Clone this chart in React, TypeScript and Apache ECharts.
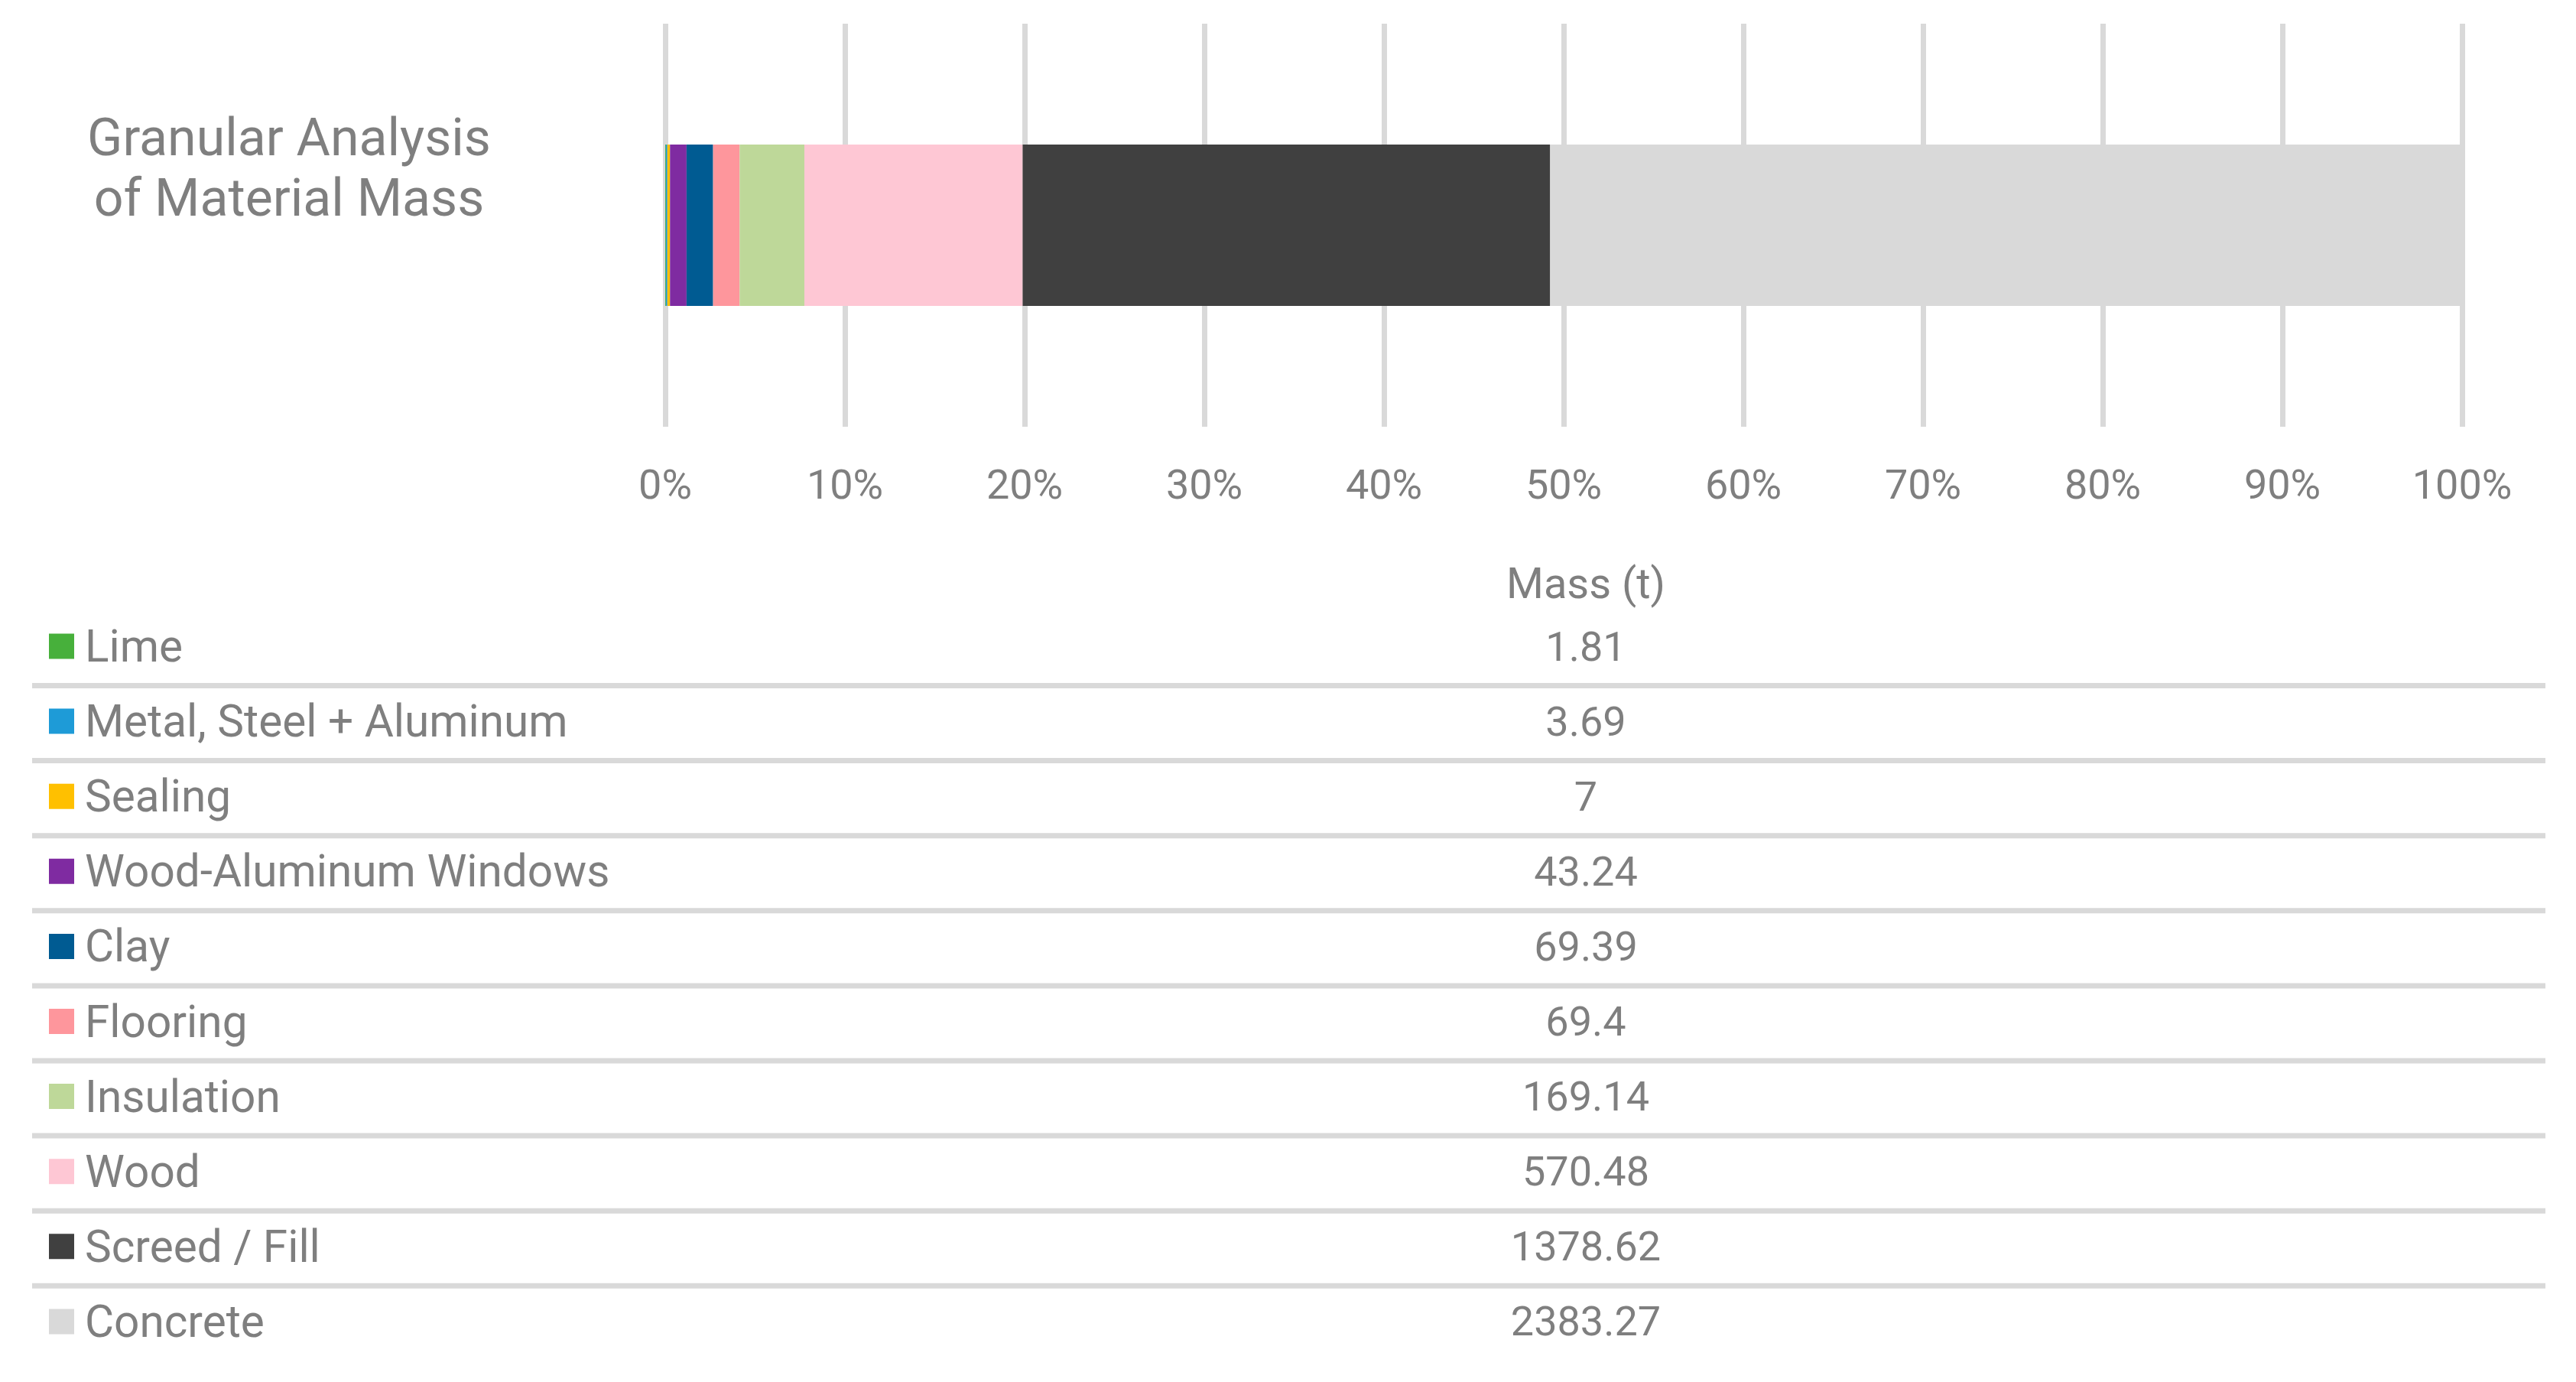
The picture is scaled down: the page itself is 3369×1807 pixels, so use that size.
import React, { useEffect, useRef } from "react";
import * as echarts from "echarts";

const materials = [
  "Lime",
  "Metal, Steel + Aluminum",
  "Sealing",
  "Wood-Aluminum Windows",
  "Clay",
  "Flooring",
  "Insulation",
  "Wood",
  "Screed / Fill",
  "Concrete",
];
const massTonnes = [1.81, 3.69, 7, 43.24, 69.39, 69.4, 169.14, 570.48, 1378.62, 2383.27];
const massLabels = ["1.81", "3.69", "7", "43.24", "69.39", "69.4", "169.14", "570.48", "1378.62", "2383.27"];
const colors = [
  "#47b03b",
  "#1e9bd7",
  "#ffc000",
  "#7f2ba1",
  "#005b92",
  "#fe969c",
  "#bed899",
  "#fec7d4",
  "#404040",
  "#d9d9d9",
];
const percentTicks = [0, 10, 20, 30, 40, 50, 60, 70, 80, 90, 100];
const titleLines = ["Granular Analysis", "of Material Mass"];
const tableHeader = "Mass (t)";

const FONT = "Roboto, 'Noto Sans', sans-serif";
const GRAY = "#7f7f7f";

export default function App() {
  const ref = useRef<HTMLDivElement>(null);

  useEffect(() => {
    document.body.style.margin = "0";
    if (!ref.current) return;
    const chart = echarts.init(ref.current, undefined, { renderer: "svg" });

    const total = massTonnes.reduce((a, b) => a + b, 0);
    const shares = massTonnes.map((v) => (v / total) * 100);

    const rowY0 = 845;
    const rowStep = 98.1;
    const valueX = 2074;

    const graphics: any[] = [];
    titleLines.forEach((t, i) => {
      graphics.push({
        type: "text",
        x: 378,
        y: 180 + i * 79,
        style: {
          text: t,
          fill: GRAY,
          font: `68px ${FONT}`,
          textAlign: "center",
          textVerticalAlign: "middle",
        },
      });
    });
    graphics.push({
      type: "text",
      x: valueX,
      y: 763,
      style: {
        text: tableHeader,
        fill: GRAY,
        font: `56px ${FONT}`,
        textAlign: "center",
        textVerticalAlign: "middle",
      },
    });
    materials.forEach((m, i) => {
      const cy = rowY0 + i * rowStep;
      graphics.push({
        type: "rect",
        shape: { x: 64, y: cy - 16.5, width: 33, height: 33 },
        style: { fill: colors[i] },
      });
      graphics.push({
        type: "text",
        x: 111,
        y: cy,
        style: {
          text: m,
          fill: GRAY,
          font: `58.5px ${FONT}`,
          textAlign: "left",
          textVerticalAlign: "middle",
        },
      });
      graphics.push({
        type: "text",
        x: valueX,
        y: cy,
        style: {
          text: massLabels[i],
          fill: GRAY,
          font: `54px ${FONT}`,
          textAlign: "center",
          textVerticalAlign: "middle",
        },
      });
      if (i < materials.length - 1) {
        graphics.push({
          type: "rect",
          shape: { x: 42, y: cy + 48, width: 3287, height: 7 },
          style: { fill: "#d9d9d9" },
        });
      }
    });

    chart.setOption({
      animation: false,
      backgroundColor: "#ffffff",
      textStyle: { fontFamily: FONT },
      grid: { left: 870, right: 149, top: 31, height: 527, containLabel: false },
      xAxis: {
        type: "value",
        min: percentTicks[0],
        max: percentTicks[percentTicks.length - 1],
        interval: percentTicks[1] - percentTicks[0],
        axisLine: { show: false },
        axisTick: { show: false },
        splitLine: { show: true, lineStyle: { color: "#d9d9d9", width: 7 } },
        axisLabel: {
          formatter: "{value}%",
          color: GRAY,
          fontSize: 54,
          lineHeight: 54,
          margin: 48,
          fontFamily: FONT,
        },
      },
      yAxis: {
        type: "category",
        data: [""],
        axisLine: { show: false },
        axisTick: { show: false },
        axisLabel: { show: false },
        splitLine: { show: false },
      },
      series: materials.map((m, i) => ({
        name: m,
        type: "bar",
        stack: "mass",
        barWidth: "40%",
        itemStyle: { color: colors[i] },
        data: [shares[i]],
      })),
      graphic: graphics,
    });

    return () => chart.dispose();
  }, []);

  return <div ref={ref} style={{ width: 3369, height: 1807 }} />;
}
